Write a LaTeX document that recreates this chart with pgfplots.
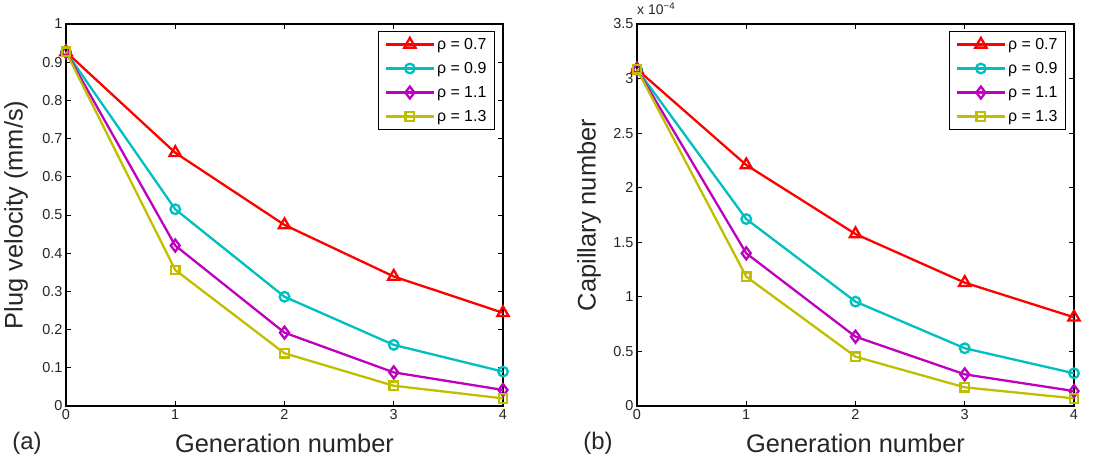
\documentclass[border=0pt]{standalone}
\usepackage{pgfplots}
\pgfplotsset{compat=1.18}
\usepackage{fontspec}
\setmainfont{Liberation Sans}
\definecolor{mc}{rgb}{0,0.75,0.75}
\definecolor{mm}{rgb}{0.75,0,0.75}
\definecolor{my}{rgb}{0.75,0.75,0}
\pgfplotsset{
  mystyle/.style={
    scale only axis, width=437bp, height=382bp, anchor=south west,
    xmin=0, xmax=4, xtick={0,1,2,3,4},
    tick align=inside, xtick pos=both, ytick pos=both,
    major tick length=5bp,
    axis line style={line width=1.2bp},
    every tick/.style={black, line width=0.8bp},
    /pgf/number format/assume math mode=true,
    tick label style={font=\fontsize{14.5}{15}\selectfont, text=black!85},
    label style={font=\fontsize{25.5}{26}\selectfont, text=black!85},
    clip=false,
    legend cell align=left,
    legend style={at={(0.9817,0.9817)}, anchor=north east, draw=black, line width=1.2bp,
      font=\fontsize{16}{16}\selectfont, row sep=7.5bp, inner xsep=6bp, inner ysep=4.5bp},
    legend image code/.code={\draw[mark repeat=2,mark phase=2] plot coordinates {(0bp,0bp) (24bp,0bp) (48bp,0bp)};},
    every axis plot/.append style={line width=2.3bp},
  }
}
\begin{document}
\begin{tikzpicture}
\path[use as bounding box] (0,0) rectangle (1094bp,459bp);
\begin{axis}[mystyle, at={(66bp,53bp)}, ymin=0, ymax=1, ytick={0,0.1,...,1},
  yticklabels={0,0.1,0.2,0.3,0.4,0.5,0.6,0.7,0.8,0.9,1},
  xlabel={Generation number}, ylabel={Plug velocity (mm/s)},
  xlabel style={at={(axis description cs:0.5,-0.097)}, anchor=center},
  ylabel style={at={(axis description cs:-0.114,0.5)}, anchor=center}]
\addplot[red, mark=triangle, mark size=6.5bp, mark options={solid}] coordinates {(0,0.927) (1,0.663) (2,0.474) (3,0.339) (4,0.244)};
\addlegendentry{ρ = 0.7}
\addplot[mc, mark=o, mark size=4.8bp] coordinates {(0,0.927) (1,0.515) (2,0.286) (3,0.160) (4,0.090)};
\addlegendentry{ρ = 0.9}
\addplot[mm, mark=diamond, mark size=6bp] coordinates {(0,0.927) (1,0.420) (2,0.192) (3,0.088) (4,0.042)};
\addlegendentry{ρ = 1.1}
\addplot[my, mark=square, mark size=4.3bp] coordinates {(0,0.927) (1,0.356) (2,0.138) (3,0.053) (4,0.020)};
\addlegendentry{ρ = 1.3}
\end{axis}
\begin{axis}[mystyle, at={(637bp,53bp)}, ymin=0, ymax=3.5, ytick={0,0.5,...,3.5},
  yticklabels={0,0.5,1,1.5,2,2.5,3,3.5},
  xlabel={Generation number}, ylabel={Capillary number},
  xlabel style={at={(axis description cs:0.5,-0.097)}, anchor=center},
  ylabel style={at={(axis description cs:-0.110,0.5)}, anchor=center}]
\addplot[red, mark=triangle, mark size=6.5bp] coordinates {(0,3.085) (1,2.208) (2,1.576) (3,1.130) (4,0.813)};
\addlegendentry{ρ = 0.7}
\addplot[mc, mark=o, mark size=4.8bp] coordinates {(0,3.085) (1,1.713) (2,0.956) (3,0.529) (4,0.300)};
\addlegendentry{ρ = 0.9}
\addplot[mm, mark=diamond, mark size=6bp] coordinates {(0,3.085) (1,1.399) (2,0.635) (3,0.290) (4,0.137)};
\addlegendentry{ρ = 1.1}
\addplot[my, mark=square, mark size=4.3bp] coordinates {(0,3.085) (1,1.185) (2,0.452) (3,0.171) (4,0.070)};
\addlegendentry{ρ = 1.3}
\node[anchor=base west, font=\fontsize{14}{14}\selectfont, text=black!85, inner sep=0pt] at ([yshift=9bp]rel axis cs:0,1) {x 10\textsuperscript{\char"2212 4}};
\end{axis}
\node[font=\fontsize{24}{24}\selectfont, text=black!85] at (27bp,16bp) {(a)};
\node[font=\fontsize{24}{24}\selectfont, text=black!85] at (598bp,16bp) {(b)};
\end{tikzpicture}
\end{document}
